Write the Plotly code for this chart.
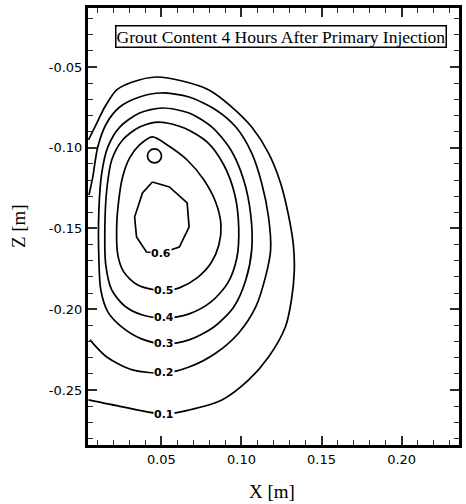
import plotly.graph_objects as go

# ---- data ----
levels = ["0.1", "0.2", "0.3", "0.4", "0.5", "0.6"]

c01_x = [0.0045, 0.0097, 0.0147, 0.0221, 0.0320, 0.0469, 0.0630, 0.0797, 0.0940, 0.1064,
         0.1169, 0.1244, 0.1293, 0.1324, 0.1330, 0.1312, 0.1274, 0.1169, 0.1045, 0.0878,
         0.0673, 0.0519, 0.0258, 0.0045]
c01_z = [-0.0952, -0.0847, -0.0748, -0.0642, -0.0593, -0.0562, -0.0587, -0.0642, -0.0748, -0.0872,
         -0.1033, -0.1218, -0.1415, -0.1602, -0.1757, -0.1943, -0.2110, -0.2296, -0.2438, -0.2562,
         -0.2624, -0.2649, -0.2605, -0.2562]

c02_x = [0.0048, 0.0072, 0.0103, 0.0159, 0.0240, 0.0364, 0.0500, 0.0673, 0.0841, 0.0965,
         0.1064, 0.1126, 0.1169, 0.1182, 0.1150, 0.1089, 0.0983, 0.0841, 0.0673, 0.0519,
         0.0320, 0.0159, 0.0054]
c02_z = [-0.1293, -0.1181, -0.0995, -0.0847, -0.0748, -0.0686, -0.0661, -0.0686, -0.0766, -0.0872,
         -0.1033, -0.1218, -0.1429, -0.1633, -0.1800, -0.1986, -0.2147, -0.2271, -0.2358, -0.2395,
         -0.2376, -0.2296, -0.2190]

c03_x = [0.0506, 0.0364, 0.0240, 0.0166, 0.0128, 0.0110, 0.0110, 0.0122, 0.0166, 0.0252,
         0.0376, 0.0519, 0.0673, 0.0828, 0.0952, 0.1027, 0.1064, 0.1058, 0.1014, 0.0934,
         0.0816, 0.0673, 0.0506]
c03_z = [-0.0754, -0.0785, -0.0872, -0.0995, -0.1156, -0.1385, -0.1695, -0.1881, -0.2017, -0.2110,
         -0.2184, -0.2215, -0.2190, -0.2110, -0.1986, -0.1819, -0.1633, -0.1416, -0.1200, -0.1014,
         -0.0872, -0.0785, -0.0754]

c04_x = [0.0488, 0.0364, 0.0258, 0.0190, 0.0159, 0.0147, 0.0153, 0.0190, 0.0271, 0.0382,
         0.0519, 0.0673, 0.0810, 0.0915, 0.0971, 0.0983, 0.0959, 0.0890, 0.0785, 0.0643, 0.0488]
c04_z = [-0.0841, -0.0872, -0.0952, -0.1076, -0.1262, -0.1509, -0.1726, -0.1881, -0.1980, -0.2036,
         -0.2054, -0.2029, -0.1955, -0.1837, -0.1683, -0.1497, -0.1293, -0.1107, -0.0964, -0.0878, -0.0841]

c05_x = [0.0444, 0.0364, 0.0302, 0.0258, 0.0234, 0.0221, 0.0228, 0.0265, 0.0352, 0.0519,
         0.0612, 0.0723, 0.0810, 0.0859, 0.0872, 0.0841, 0.0766, 0.0661, 0.0537, 0.0444]
c05_z = [-0.0933, -0.0983, -0.1063, -0.1181, -0.1324, -0.1491, -0.1664, -0.1769, -0.1850, -0.1887,
         -0.1868, -0.1806, -0.1714, -0.1602, -0.1478, -0.1342, -0.1200, -0.1076, -0.0983, -0.0933]

c06_x = [0.0444, 0.0550, 0.0661, 0.0673, 0.0612, 0.0500, 0.0407, 0.0345, 0.0333, 0.0382, 0.0444]
c06_z = [-0.1212, -0.1243, -0.1342, -0.1491, -0.1615, -0.1652, -0.1646, -0.1553, -0.1429, -0.1280, -0.1212]

injection_x = [0.0457]
injection_z = [-0.1051]

x_tickvals = [0.05, 0.10, 0.15, 0.20]
x_ticktext = ["0.05", "0.10", "0.15", "0.20"]
z_tickvals = [-0.05, -0.10, -0.15, -0.20, -0.25]
z_ticktext = ["-0.05", "-0.10", "-0.15", "-0.20", "-0.25"]

title_text = "Grout Content 4 Hours After Primary Injection"
x_title = "X [m]"
z_title = "Z [m]"

x_range = [0.0042, 0.2358]
z_range = [-0.2841, -0.01347]

# ---- figure ----
contours = [(c01_x, c01_z, "spline"), (c02_x, c02_z, "spline"), (c03_x, c03_z, "spline"),
            (c04_x, c04_z, "spline"), (c05_x, c05_z, "spline"), (c06_x, c06_z, "linear")]

fig = go.Figure()
annotations = []
for (cx, cz, shape), lab in zip(contours, levels):
    fig.add_trace(go.Scatter(x=cx, y=cz, mode="lines",
                             line=dict(color="black", width=1.7, shape=shape, smoothing=0.8),
                             hoverinfo="skip", showlegend=False))
    i = min(range(len(cz)), key=lambda k: cz[k])
    annotations.append(dict(x=cx[i], y=cz[i], xref="x", yref="y", text=lab, showarrow=False,
                            bgcolor="white", borderpad=0,
                            font=dict(family="DejaVu Sans", size=11, color="black", weight="bold")))

fig.add_trace(go.Scatter(x=injection_x, y=injection_z, mode="markers",
                         marker=dict(symbol="circle-open", size=14, color="black",
                                     line=dict(width=1.7, color="black")),
                         hoverinfo="skip", showlegend=False))

annotations.append(dict(x=0.519, y=0.934, xref="paper", yref="paper", text=title_text,
                        xanchor="center", yanchor="middle",
                        showarrow=False, bgcolor="white", bordercolor="black", borderwidth=1.5,
                        borderpad=0,
                        font=dict(family="Liberation Serif", size=17.5, color="black")))
annotations.append(dict(x=0.495, y=-0.107, xref="paper", yref="paper", text=x_title,
                        xanchor="center", yanchor="middle", showarrow=False,
                        font=dict(family="Liberation Serif", size=19, color="black")))
annotations.append(dict(x=-0.187, y=0.5, xref="paper", yref="paper", text=z_title,
                        xanchor="center", yanchor="middle", showarrow=False, textangle=-90,
                        font=dict(family="Liberation Serif", size=19, color="black")))

axis_common = dict(showgrid=False, zeroline=False, showline=True, linecolor="black", linewidth=3,
                   mirror="allticks", ticks="inside", ticklen=9, tickwidth=2, tickcolor="#2b2b2b",
                   minor=dict(ticks="inside", ticklen=5, tickwidth=1, tickcolor="#2b2b2b",
                              dtick=0.01, tick0=0))

fig.update_layout(
    width=466, height=504, margin=dict(l=88, r=4, t=8, b=59),
    plot_bgcolor="white", paper_bgcolor="white", annotations=annotations,
    font=dict(family="DejaVu Sans", size=13, color="black"),
    xaxis=dict(range=x_range, tickvals=x_tickvals, ticktext=x_ticktext, **axis_common),
    yaxis=dict(range=z_range, tickvals=z_tickvals, ticktext=z_ticktext, **axis_common),
)

fig.write_html("out.html")
